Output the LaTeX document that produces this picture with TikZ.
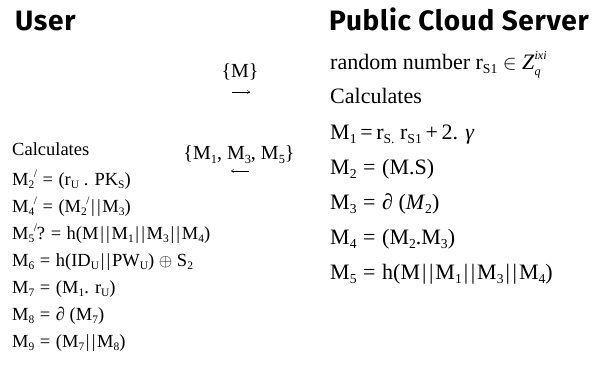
\documentclass[tikz,border=0pt]{standalone}
\usepackage{fontspec}
\setmainfont{Liberation Serif}
\newfontfamily\headfont{Fira Sans}[LetterSpace=2.5]
\usetikzlibrary{arrows.meta}
\makeatletter
\newcommand{\sub}[1]{\raisebox{-0.2em}{\fontsize{\fpeval{0.62*\f@size}}{0}\selectfont #1}}
\newcommand{\sups}[1]{\raisebox{0.42em}{\fontsize{\fpeval{0.62*\f@size}}{0}\selectfont #1}}
\newcommand{\zsubsup}[2]{\rlap{\raisebox{-0.3em}{\fontsize{\fpeval{0.55*\f@size}}{0}\selectfont #1}}\raisebox{0.45em}{\fontsize{\fpeval{0.55*\f@size}}{0}\selectfont #2}}
\makeatother
\newcommand{\pr}{\sups{\kern-0.05em/}}
\newcommand{\pp}{\kern0.09em|\kern0.12em|\kern0.09em}
\newcommand{\eq}{\hspace{0.3em}=\hspace{0.3em}}
\tikzset{
  head/.style={anchor=base west, inner sep=0pt, font=\headfont\bfseries\fontsize{28}{28}\selectfont},
  lt/.style={anchor=base west, inner sep=0pt, font=\fontsize{18.5}{18.5}\selectfont},
  rt/.style={anchor=base west, inner sep=0pt, font=\fontsize{22}{22}\selectfont},
  msg/.style={anchor=base, inner sep=0pt, font=\fontsize{20}{20}\selectfont},
  flow/.style={line width=0.5pt, -{To[length=3pt,width=3.5pt]}}
}
\begin{document}
\begin{tikzpicture}[x=1pt,y=-1pt]
\useasboundingbox (0,0) rectangle (594,378);
% headings
\node[head] (user) at (15,30) {User};
\node[head] (pcs) at (329,30) {Public Cloud Server};
% messages
\node[msg] (m1) at (240,77) {\{M\}};
\coordinate (a1s) at (232,92);
\coordinate (a1e) at (250,92);
\draw[flow] (a1s) -- (a1e);
\node[msg] (m2) at (239,159) {\{M\sub{1}, M\sub{3}, M\sub{5}\}};
\coordinate (a2s) at (249,171);
\coordinate (a2e) at (231,171);
\draw[flow] (a2s) -- (a2e);
% user side
\node[lt] (u0) at (12,155) {Calculates};
\node[lt] (u1) at (12,185) {M\sub{2}\pr{}\eq(r\sub{U} . PK\sub{S})};
\node[lt] (u2) at (12,212) {M\sub{4}\pr{}\eq(M\sub{2}\pr\pp M\sub{3})};
\node[lt] (u3) at (12,239) {M\sub{5}\pr?\eq h(M\pp M\sub{1}\pp M\sub{3}\pp M\sub{4})};
\node[lt] (u4) at (12,266) {M\sub{6}\eq h(ID\sub{U}\pp PW\sub{U}) $\oplus$ S\sub{2}};
\node[lt] (u5) at (12,293) {M\sub{7}\eq(M\sub{1}. r\sub{U})};
\node[lt] (u6) at (12,320) {M\sub{8}\eq∂ (M\sub{7})};
\node[lt] (u7) at (12,347) {M\sub{9}\eq(M\sub{7}\pp M\sub{8})};
% server side
\node[rt] (s0) at (330,69) {random number r\sub{S1} $\in$ \textit{Z}\zsubsup{\textit{q}}{\textit{ixi}}};
\node[rt] (s1) at (330,103) {Calculates};
\node[rt] (s2) at (330,139) {M\sub{1}\,=\,r\sub{S.} r\sub{S1}\,+\,2. \textit{γ}};
\node[rt] (s3) at (330,174) {M\sub{2}\eq(M.S)};
\node[rt] (s4) at (330,209) {M\sub{3}\eq∂ (\textit{M}\sub{2})};
\node[rt] (s5) at (330,244) {M\sub{4}\eq(M\sub{2}.M\sub{3})};
\node[rt] (s6) at (330,279) {M\sub{5}\eq h(M\pp M\sub{1}\pp M\sub{3}\pp M\sub{4})};
\end{tikzpicture}
\end{document}
